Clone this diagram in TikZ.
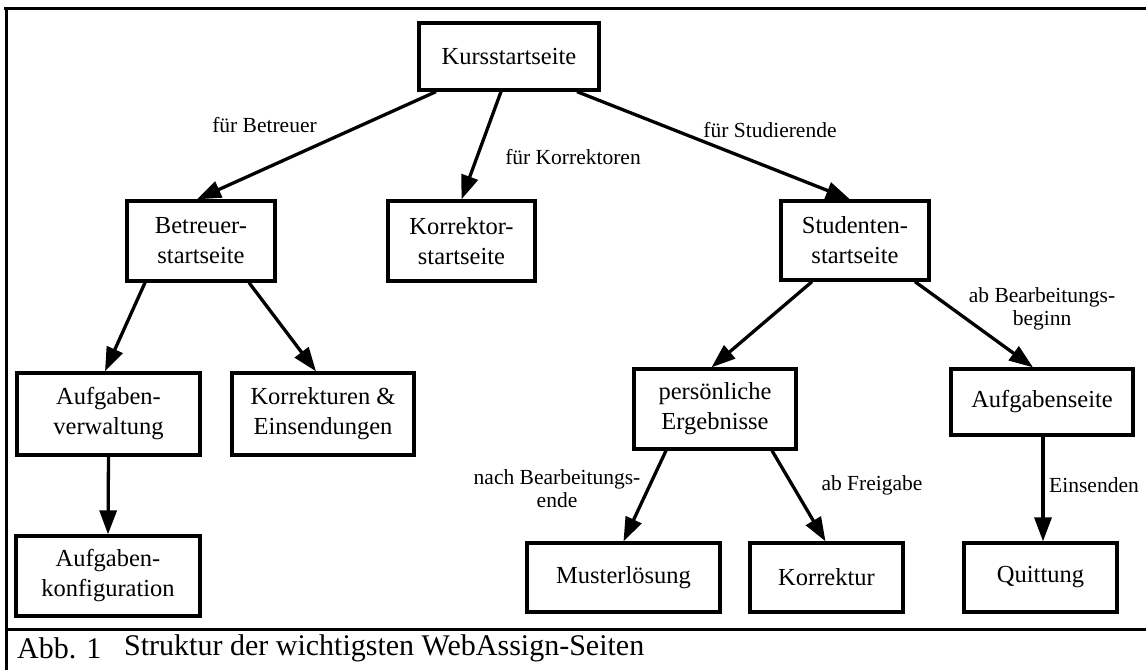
\documentclass[tikz,border=0pt]{standalone}
\usepackage{fontspec}
\setmainfont{Liberation Serif}
\usetikzlibrary{arrows.meta}
\begin{document}
\begin{tikzpicture}[x=1pt,y=-1pt,
  page/.style={draw, line width=3.3pt, align=center, inner sep=0pt,
    font=\fontsize{24.5}{30}\selectfont},
  link/.style={line width=3.3pt, -{Triangle[length=24pt,width=17pt]}},
  cond/.style={align=center, inner sep=0pt, font=\fontsize{21.5}{23}\selectfont},
  framing/.style={line width=3pt},
  capt/.style={anchor=west, inner sep=0pt, font=\fontsize{30}{32}\selectfont}]
\useasboundingbox (0,0) rectangle (1146,670);
\fill[white] (0,0) rectangle (1146,670);

% figure frame and caption rule
\draw[framing] (4,8) -- (1146,8);
\draw[framing] (6,8) -- (6,670);
\draw[framing] (6,629) -- (1146,629);

% pages
\node[page, minimum width=180pt, minimum height=67pt] (kurs) at (509,56.5) {Kursstartseite};
\node[page, minimum width=148pt, minimum height=80pt] (betr) at (201,241) {Betreuer-\\startseite};
\node[page, minimum width=147pt, minimum height=80pt] (korr) at (461.5,241) {Korrektor-\\startseite};
\node[page, minimum width=148pt, minimum height=79pt] (stud) at (855,240.5) {Studenten-\\startseite};
\node[page, minimum width=183pt, minimum height=82pt] (verw) at (108.5,414) {Aufgaben-\\verwaltung};
\node[page, minimum width=182pt, minimum height=82pt] (eins) at (323,414) {Korrekturen \&\\Einsendungen};
\node[page, minimum width=184pt, minimum height=80pt] (konf) at (108,576) {Aufgaben-\\konfiguration};
\node[page, minimum width=162pt, minimum height=80pt] (pers) at (715,409) {persönliche\\Ergebnisse};
\node[page, minimum width=182pt, minimum height=66pt] (aufg) at (1042,402) {Aufgabenseite};
\node[page, minimum width=193pt, minimum height=69pt] (must) at (623.5,577.5) {Musterlösung};
\node[page, minimum width=153pt, minimum height=69pt] (kort) at (826.5,577.5) {Korrektur};
\node[page, minimum width=153pt, minimum height=69pt] (quit) at (1040.5,577.5) {Quittung};

% links between pages
\draw[link] ([xshift=-73pt]kurs.south) -- ([xshift=-4pt]betr.north);
\draw[link] ([xshift=-8pt]kurs.south) -- (korr.north);
\draw[link] ([xshift=68pt]kurs.south) -- ([xshift=-5pt]stud.north);
\draw[link] ([xshift=-56pt]betr.south) -- ([xshift=-3.5pt]verw.north);
\draw[link] ([xshift=48pt]betr.south) -- ([xshift=-7pt]eins.north);
\draw[link] (verw.south) -- (konf.north);
\draw[link] ([xshift=-43pt]stud.south) -- ([xshift=-3.5pt]pers.north);
\draw[link] ([xshift=60pt]stud.south) -- ([xshift=-9pt]aufg.north);
\draw[link] ([xshift=-49pt]pers.south) -- (must.north);
\draw[link] ([xshift=57pt]pers.south) -- ([xshift=-1pt]kort.north);
\draw[link] ([xshift=1pt]aufg.south) -- ([xshift=2.5pt]quit.north);

% conditions on the links
\node[cond] (c1) at (264.5,125) {für Betreuer};
\node[cond] (c2) at (573,157) {für Korrektoren};
\node[cond] (c3) at (770,130) {für Studierende};
\node[cond] (c4) at (1042,309) {ab Bearbeitungs-\\beginn};
\node[cond] (c5) at (557,489) {nach Bearbeitungs-\\ende};
\node[cond] (c6) at (872,485) {ab Freigabe};
\node[cond] (c7) at (1094,485) {Einsenden};

% caption
\node[capt] (abb) at (17,648) {Abb. 1};
\node[capt] (titel) at (124,648) {Struktur der wichtigsten WebAssign-Seiten};
\end{tikzpicture}
\end{document}
